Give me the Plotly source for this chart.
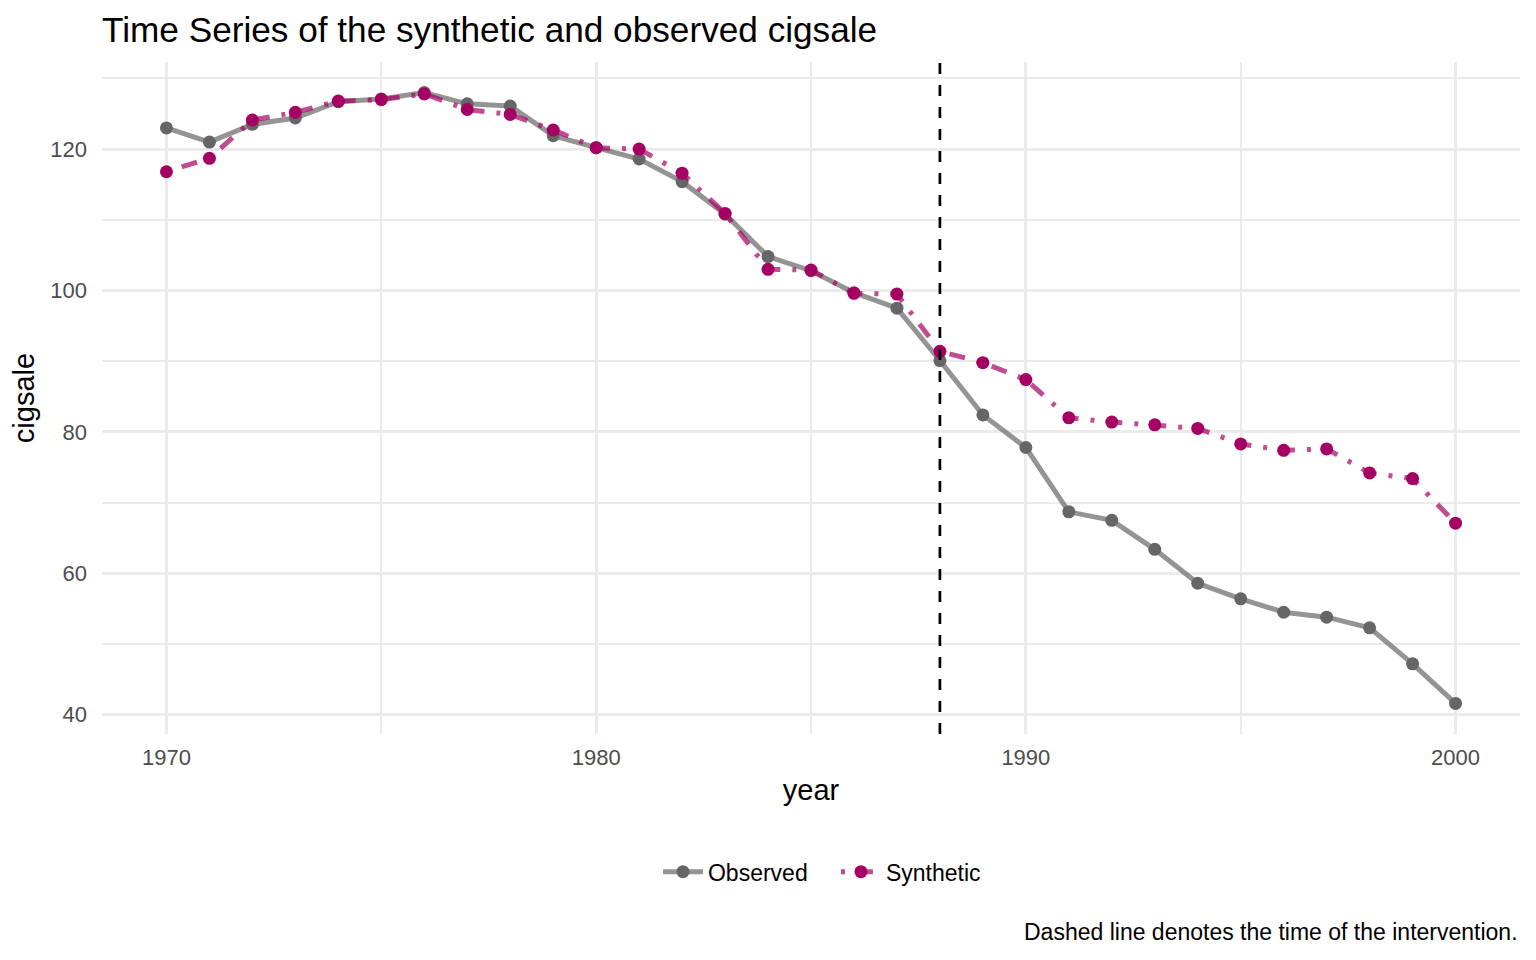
import plotly.graph_objects as go

# Observed vs synthetic cigarette sales per capita
years = list(range(1970, 2001))

observed = [123.0, 121.0, 123.5, 124.4, 126.7, 127.1, 128.0, 126.4, 126.1, 121.9,
            120.2, 118.6, 115.4, 110.8, 104.8, 102.8, 99.7, 97.5, 90.1, 82.4,
            77.8, 68.7, 67.5, 63.4, 58.6, 56.4, 54.5, 53.8, 52.3, 47.2, 41.6]

synthetic = [116.8, 118.7, 124.1, 125.2, 126.8, 127.0, 127.8, 125.6, 124.9, 122.7,
             120.2, 120.0, 116.6, 110.9, 103.0, 102.9, 99.6, 99.5, 91.4, 89.8,
             87.4, 82.0, 81.4, 81.0, 80.5, 78.3, 77.4, 77.6, 74.2, 73.4, 67.1]

intervention_year = 1988

FONT = "Liberation Sans, Arial, Helvetica, sans-serif"
GRID = "#EBEBEB"

fig = go.Figure()

fig.add_trace(go.Scatter(
    x=years, y=observed, name="Observed", mode="lines+markers",
    line=dict(color="rgba(102,102,102,0.7)", width=5),
    marker=dict(color="#666666", size=13),
))

fig.add_trace(go.Scatter(
    x=years, y=synthetic, name="Synthetic", mode="lines+markers",
    line=dict(color="rgba(165,0,100,0.7)", width=5, dash="4px,12px,16px,12px"),
    marker=dict(color="#A50064", size=13),
))

# intervention marker
fig.add_shape(type="line", x0=intervention_year, x1=intervention_year,
              xref="x", yref="paper", y0=0, y1=1,
              line=dict(color="black", width=2.7, dash="11px,11px"))

fig.add_annotation(
    text="Dashed line denotes the time of the intervention.",
    xref="paper", yref="paper", x=1, y=-0.2946,
    xanchor="right", yanchor="middle", showarrow=False,
    font=dict(family=FONT, size=23, color="black"),
)

# the page body has an 8px margin, so the figure is sized to fit inside it
fig.update_layout(
    width=1520, height=944,
    paper_bgcolor="white", plot_bgcolor="white",
    margin=dict(l=93.5, r=7.5, t=54, b=218),
    font=dict(family=FONT, color="black"),
    title=dict(text="Time Series of the synthetic and observed cigsale",
               x=0, xref="paper", xanchor="left",
               y=1 - 22 / 944, yref="container", yanchor="middle",
               font=dict(family=FONT, size=35.2, color="black")),
    legend=dict(orientation="h", x=0.5176, xanchor="center",
                y=-0.205, yanchor="middle",
                font=dict(family=FONT, size=23, color="black"),
                itemwidth=40, entrywidth=123, entrywidthmode="pixels"),
    showlegend=True,
)

fig.update_xaxes(
    range=[1968.5, 2001.5], tickmode="linear", tick0=1970, dtick=10,
    showgrid=True, gridcolor=GRID, gridwidth=3,
    minor=dict(dtick=5, tick0=1965, showgrid=True, gridcolor=GRID, gridwidth=1.5),
    zeroline=False, showline=False, ticks="",
    tickfont=dict(family=FONT, size=22, color="#4D4D4D"),
    ticklabelstandoff=8,
    title=dict(text="year", standoff=10, font=dict(family=FONT, size=29, color="black")),
)

fig.update_yaxes(
    range=[37.28, 132.32], tickmode="linear", tick0=40, dtick=20,
    showgrid=True, gridcolor=GRID, gridwidth=3,
    minor=dict(dtick=10, tick0=30, showgrid=True, gridcolor=GRID, gridwidth=1.5),
    zeroline=False, showline=False, ticks="",
    tickfont=dict(family=FONT, size=22, color="#4D4D4D"),
    ticklabelstandoff=14,
    title=dict(text="cigsale", standoff=8, font=dict(family=FONT, size=29, color="black")),
)

fig.write_html("out.html")
